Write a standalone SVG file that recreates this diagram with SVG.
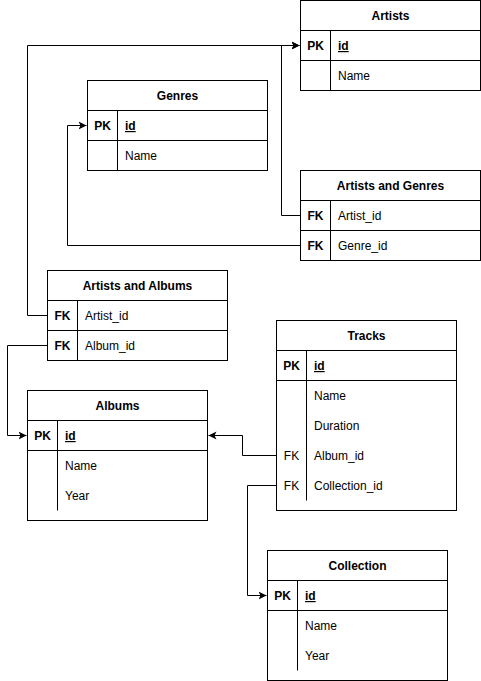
<svg xmlns="http://www.w3.org/2000/svg" width="481" height="681" viewBox="0 0 481 681">
<style>
.box{fill:#fff;stroke:#000;stroke-width:1}
.ln{stroke:#000;stroke-width:1;fill:none}
text{font-family:"Liberation Sans",Arial,Helvetica,sans-serif;font-size:12px;fill:#000}
.t{font-weight:bold;text-anchor:middle}
.k{font-weight:bold;text-anchor:middle}
.kr{text-anchor:middle}
.u{text-decoration:underline;font-weight:bold}
.c{stroke:#000;stroke-width:1;fill:none}
</style>
<defs>
<marker id="arr" markerUnits="userSpaceOnUse" markerWidth="10" markerHeight="10" viewBox="0 0 10 10" refX="8" refY="5" orient="auto">
<path d="M0,1 L8,5 L0,9 L2,5 Z" fill="#000"/>
</marker>
</defs>
<g id="connectors">
<path class="c" d="M47.5,315.5 H27.5 V45.5 H299.5" marker-end="url(#arr)"/>
<path class="c" d="M300.5,215.5 H281.5 V45.5 H299.5" marker-end="url(#arr)"/>
<path class="c" d="M300.5,245.5 H67.5 V125.5 H86.5" marker-end="url(#arr)"/>
<path class="c" d="M47.5,345.5 H7.5 V435.5 H26.5" marker-end="url(#arr)"/>
<path class="c" d="M276.5,455.5 H242.5 V435.5 H208.5" marker-end="url(#arr)"/>
<path class="c" d="M276.5,485.5 H247.5 V595.5 H266.5" marker-end="url(#arr)"/>
</g>
<g id="artists">
<rect class="box" x="300.5" y="0.5" width="180" height="90"/>
<path class="ln" d="M300.5,30.5 H480.5 M300.5,60.5 H480.5 M330.5,30.5 V90.5"/>
<text class="t" x="390.5" y="20">Artists</text>
<text class="k" x="315.5" y="50">PK</text>
<text class="u" x="338" y="50">id</text>
<text x="338" y="80">Name</text>
</g>
<g id="genres">
<rect class="box" x="87.5" y="80.5" width="180" height="90"/>
<path class="ln" d="M87.5,110.5 H267.5 M87.5,140.5 H267.5 M117.5,110.5 V170.5"/>
<text class="t" x="177.5" y="100">Genres</text>
<text class="k" x="102.5" y="130">PK</text>
<text class="u" x="125" y="130">id</text>
<text x="125" y="160">Name</text>
</g>
<g id="artists-genres">
<rect class="box" x="300.5" y="170.5" width="180" height="90"/>
<path class="ln" d="M300.5,200.5 H480.5 M300.5,230.5 H480.5 M330.5,200.5 V260.5"/>
<text class="t" x="390.5" y="190">Artists and Genres</text>
<text class="k" x="315.5" y="220">FK</text>
<text x="338" y="220">Artist_id</text>
<text class="k" x="315.5" y="250">FK</text>
<text x="338" y="250">Genre_id</text>
</g>
<g id="artists-albums">
<rect class="box" x="47.5" y="270.5" width="180" height="90"/>
<path class="ln" d="M47.5,300.5 H227.5 M47.5,330.5 H227.5 M77.5,300.5 V360.5"/>
<text class="t" x="137.5" y="290">Artists and Albums</text>
<text class="k" x="62.5" y="320">FK</text>
<text x="85" y="320">Artist_id</text>
<text class="k" x="62.5" y="350">FK</text>
<text x="85" y="350">Album_id</text>
</g>
<g id="tracks">
<rect class="box" x="276.5" y="320.5" width="180" height="190"/>
<path class="ln" d="M276.5,350.5 H456.5 M276.5,380.5 H456.5 M306.5,350.5 V500.5"/>
<text class="t" x="366.5" y="340">Tracks</text>
<text class="k" x="291.5" y="370">PK</text>
<text class="u" x="314" y="370">id</text>
<text x="314" y="400">Name</text>
<text x="314" y="430">Duration</text>
<text class="kr" x="291.5" y="460">FK</text>
<text x="314" y="460">Album_id</text>
<text class="kr" x="291.5" y="490">FK</text>
<text x="314" y="490">Collection_id</text>
</g>
<g id="albums">
<rect class="box" x="27.5" y="390.5" width="180" height="130"/>
<path class="ln" d="M27.5,420.5 H207.5 M27.5,450.5 H207.5 M57.5,420.5 V510.5"/>
<text class="t" x="117.5" y="410">Albums</text>
<text class="k" x="42.5" y="440">PK</text>
<text class="u" x="65" y="440">id</text>
<text x="65" y="470">Name</text>
<text x="65" y="500">Year</text>
</g>
<g id="collection">
<rect class="box" x="267.5" y="550.5" width="180" height="130"/>
<path class="ln" d="M267.5,580.5 H447.5 M267.5,610.5 H447.5 M297.5,580.5 V670.5"/>
<text class="t" x="357.5" y="570">Collection</text>
<text class="k" x="282.5" y="600">PK</text>
<text class="u" x="305" y="600">id</text>
<text x="305" y="630">Name</text>
<text x="305" y="660">Year</text>
</g>
</svg>
